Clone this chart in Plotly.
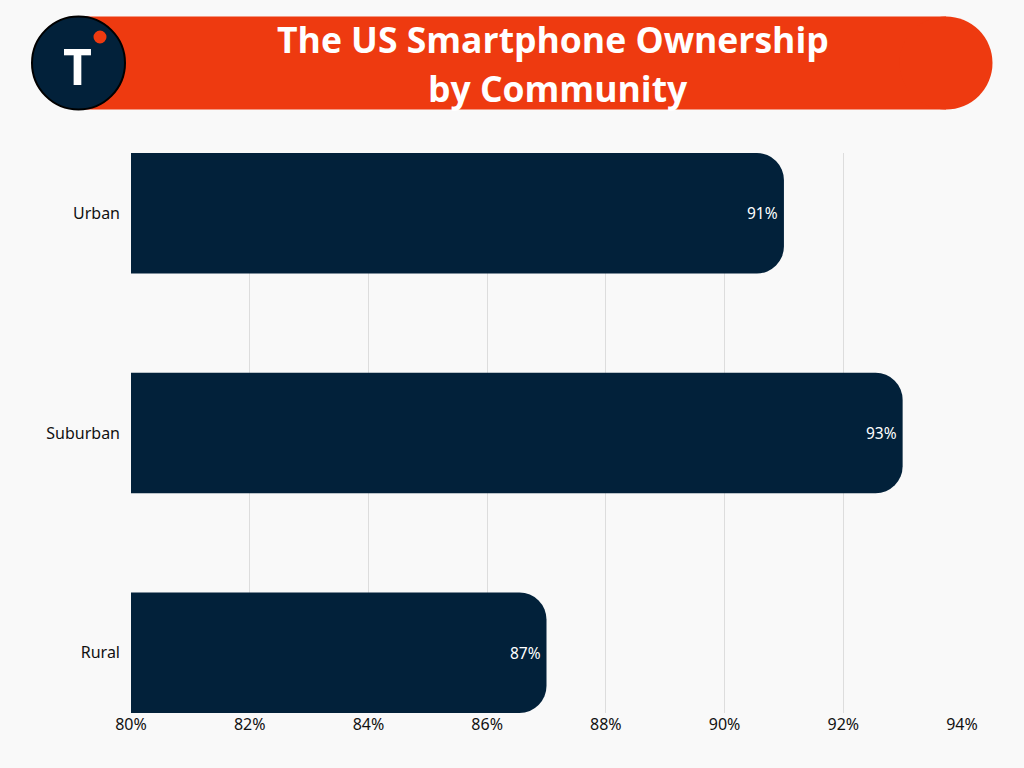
import plotly.graph_objects as go

categories = ["Urban", "Suburban", "Rural"]
ownership = [91, 93, 87]
x_ticks = [80, 82, 84, 86, 88, 90, 92, 94]
title_lines = ["The US Smartphone Ownership", "by Community"]

NAVY = "#02213A"
ORANGE = "#EE3A10"
BG = "#F9F9F9"

W, H = 1024, 768
L, R, T, B = 131, 62, 153, 55
PW, PH = W - L - R, H - T - B


def px(x):
    return (x - L) / PW


def py(y):
    return (H - B - y) / PH


fig = go.Figure(
    go.Bar(
        y=categories,
        x=ownership,
        orientation="h",
        width=0.548,
        marker=dict(color=NAVY, line=dict(width=0)),
        cliponaxis=True,
        hoverinfo="skip",
    )
)

shapes = []
# banner
shapes.append(dict(type="rect", xref="paper", yref="paper",
                   x0=px(78), x1=px(946), y0=py(109.5), y1=py(16.5),
                   fillcolor=ORANGE, line=dict(width=0), layer="above"))
shapes.append(dict(type="circle", xref="paper", yref="paper",
                   x0=px(946 - 46.5), x1=px(946 + 46.5), y0=py(109.5), y1=py(16.5),
                   fillcolor=ORANGE, line=dict(width=0), layer="above"))
# logo
shapes.append(dict(type="circle", xref="paper", yref="paper",
                   x0=px(32), x1=px(125), y0=py(109.5), y1=py(16.5),
                   fillcolor=NAVY, line=dict(width=2, color="#000000"), layer="above"))
shapes.append(dict(type="circle", xref="paper", yref="paper",
                   x0=px(93.5), x1=px(106.5), y0=py(43.5), y1=py(30.5),
                   fillcolor=ORANGE, line=dict(width=0), layer="above"))

annotations = [
    dict(text="T", xref="paper", yref="paper", x=px(77), y=py(66), xanchor="center", yanchor="middle",
         showarrow=False, font=dict(family="Open Sans", size=50, color="white", weight="bold")),
    dict(text=title_lines[0], xref="paper", yref="paper", x=px(553), y=py(39), xanchor="center", yanchor="middle",
         showarrow=False, font=dict(family="Open Sans", size=35.5, color="white", weight="bold")),
    dict(text=title_lines[1], xref="paper", yref="paper", x=px(558), y=py(88), xanchor="center", yanchor="middle",
         showarrow=False, font=dict(family="Open Sans", size=35.5, color="white", weight="bold")),
]
for cat, val in zip(categories, ownership):
    annotations.append(dict(text=f"{val}%", x=val, y=cat, xref="x", yref="y",
                            xanchor="right", yanchor="middle", xshift=-4, showarrow=False,
                            font=dict(family="Noto Sans", size=15.5, color="white")))

fig.update_layout(
    width=W, height=H,
    margin=dict(l=L, r=R, t=T, b=B, pad=0),
    paper_bgcolor=BG, plot_bgcolor=BG,
    barcornerradius=27,
    showlegend=False,
    shapes=shapes,
    annotations=annotations,
    xaxis=dict(range=[80, 94], tickvals=x_ticks, ticktext=[f"{t}%" for t in x_ticks],
               showgrid=True, gridcolor="#DDDDDD", gridwidth=1, zeroline=False,
               showline=False, ticks="", tickfont=dict(family="Noto Sans", size=16, color="#111111"),
               fixedrange=True),
    yaxis=dict(autorange=False, range=[2.274, -0.274], showgrid=False, zeroline=False,
               showline=False, ticks="", ticklabelstandoff=10,
               tickfont=dict(family="Noto Sans", size=16, color="#111111"), fixedrange=True),
)

fig.write_html("out.html", config={"displayModeBar": False})
